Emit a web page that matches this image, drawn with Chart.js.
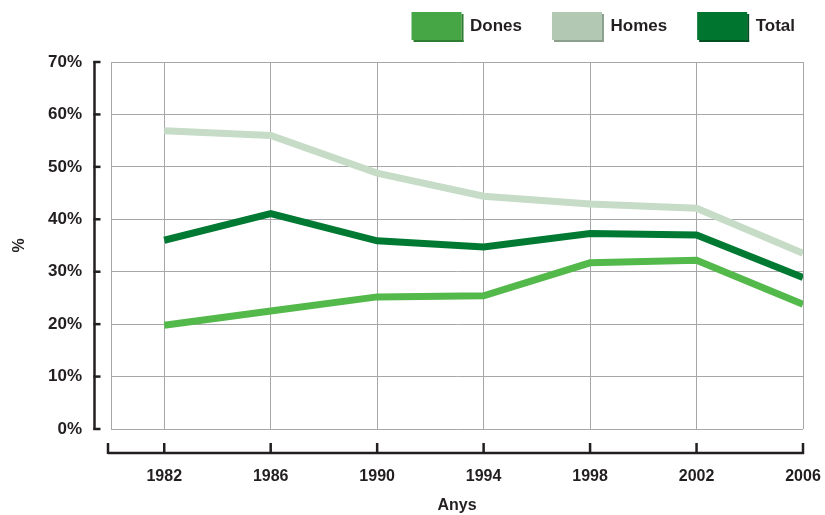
<!DOCTYPE html>
<html>
<head>
<meta charset="utf-8">
<script src="https://cdn.jsdelivr.net/npm/chart.js@4.4.1/dist/chart.umd.min.js"></script>
<style>
html,body{margin:0;padding:0;background:#fff;}
#wrap{width:825px;height:515px;}
</style>
</head>
<body>
<div id="wrap"><canvas id="c" width="825" height="515"></canvas></div>
<script>
const years = [1982, 1986, 1990, 1994, 1998, 2002, 2006];
const dones = [19.8, 22.5, 25.2, 25.4, 31.7, 32.2, 23.8];
const homes = [56.9, 56.0, 48.8, 44.4, 42.9, 42.1, 33.5];
const total = [36.0, 41.1, 35.9, 34.7, 37.3, 37.0, 28.9];
const yTicks = [0, 10, 20, 30, 40, 50, 60, 70];
const seriesNames = ['Dones', 'Homes', 'Total'];

const FONT = '"Liberation Sans", Arial, Helvetica, sans-serif';
const pts = arr => years.map((y, i) => ({x: y, y: arr[i]}));

const shadowColors = {Dones: '#2f7d30', Homes: '#8c9f8d', Total: '#004f20'};

const legendShift = {
  id: 'legendShift',
  beforeLayout(chart) {
    const l = chart.legend;
    if (l && !l._fitWrapped) {
      const origFit = l.fit;
      l.fit = function () { origFit.call(this); this.height = 62; };
      l._fitWrapped = true;
    }
  },
  afterLayout(chart) {
    const l = chart.legend;
    if (l) { l.top -= 18; l.bottom -= 18; }
  }
};

const axesPlugin = {
  id: 'axesPlugin',
  afterDraw(chart) {
    const ctx = chart.ctx;
    const xs = chart.scales.x, ys = chart.scales.y;
    const ca = chart.chartArea;
    ctx.save();
    ctx.strokeStyle = '#231f20';
    ctx.lineWidth = 2.5;
    ctx.lineCap = 'butt';
    // y axis line
    const ax = ca.left - 16.5;
    ctx.beginPath();
    ctx.moveTo(ax, ys.getPixelForValue(70) - 1);
    ctx.lineTo(ax, ys.getPixelForValue(0) + 1);
    ctx.stroke();
    yTicks.forEach(v => {
      const py = ys.getPixelForValue(v);
      ctx.beginPath();
      ctx.moveTo(ax - 1, py);
      ctx.lineTo(ax + 6, py);
      ctx.stroke();
    });
    // x axis line
    const ay = ca.bottom + 24;
    const leftEnd = ca.left - 3;
    ctx.beginPath();
    ctx.moveTo(leftEnd, ay);
    ctx.lineTo(xs.getPixelForValue(years[years.length - 1]) + 1, ay);
    ctx.stroke();
    [leftEnd].concat(years.map(v => xs.getPixelForValue(v))).forEach(px => {
      ctx.beginPath();
      ctx.moveTo(px, ay + 1);
      ctx.lineTo(px, ay - 10);
      ctx.stroke();
    });
    // legend box shadows
    const lg = chart.legend;
    if (lg && lg.legendHitBoxes) {
      const bw = lg.options.labels.boxWidth, bh = lg.options.labels.boxHeight;
      lg.legendHitBoxes.forEach((hb, i) => {
        ctx.fillStyle = shadowColors[lg.legendItems[i].text];
        const top = hb.top + (hb.height - bh) / 2;
        ctx.fillRect(hb.left + bw, top + 2, 2, bh);
        ctx.fillRect(hb.left + 2, top + bh, bw, 2);
      });
    }
    ctx.restore();
  }
};

new Chart(document.getElementById('c'), {
  type: 'line',
  data: {
    datasets: [
      {label: seriesNames[1], data: pts(homes), borderColor: '#c6dcc7', backgroundColor: '#b2c8b3', order: 3},
      {label: seriesNames[2], data: pts(total), borderColor: '#007a33', backgroundColor: '#00752f', order: 2},
      {label: seriesNames[0], data: pts(dones), borderColor: '#53b94a', backgroundColor: '#46a544', order: 1}
    ]
  },
  options: {
    responsive: false,
    animation: false,
    devicePixelRatio: 1,
    layout: {padding: {left: 0, right: 0, top: 0, bottom: 0}},
    elements: {
      line: {borderWidth: 7, tension: 0, borderCapStyle: 'butt', borderJoinStyle: 'miter', fill: false},
      point: {radius: 0, hoverRadius: 0}
    },
    plugins: {
      tooltip: {enabled: false},
      legend: {
        display: true,
        position: 'top',
        align: 'end',
        labels: {
          boxWidth: 50,
          boxHeight: 28,
          padding: 30,
          color: '#231f20',
          font: {family: FONT, size: 17, weight: 'bold'},
          generateLabels(chart) {
            return seriesNames.map(name => {
              const idx = chart.data.datasets.findIndex(d => d.label === name);
              const ds = chart.data.datasets[idx];
              return {text: name, fillStyle: ds.backgroundColor, strokeStyle: ds.backgroundColor,
                      lineWidth: 0, hidden: false, datasetIndex: idx, fontColor: '#231f20'};
            });
          }
        }
      }
    },
    scales: {
      x: {
        type: 'linear',
        min: 1980,
        max: 2006,
        afterBuildTicks(s) { s.ticks = years.map(v => ({value: v})); },
        afterFit(s) { s.height = 86; s.paddingRight = 22; s.paddingLeft = 0; },
        grid: {color: '#a7a7a7', lineWidth: 1, drawTicks: false},
        border: {display: false},
        ticks: {
          padding: 38,
          color: '#231f20',
          font: {family: FONT, size: 16, weight: 'bold'},
          maxRotation: 0,
          callback: v => String(v)
        },
        title: {
          display: true,
          text: 'Anys',
          color: '#231f20',
          font: {family: FONT, size: 16, weight: 'bold'},
          padding: {top: 0, bottom: 0}
        }
      },
      y: {
        min: 0,
        max: 70,
        afterBuildTicks(s) { s.ticks = yTicks.map(v => ({value: v})); },
        afterFit(s) { s.width = 111; },
        grid: {color: '#a7a7a7', lineWidth: 1, drawTicks: false},
        border: {display: true, color: '#a7a7a7', width: 1},
        ticks: {
          padding: 29,
          color: '#231f20',
          font: {family: FONT, size: 17, weight: 'bold'},
          callback: v => v + '%'
        },
        title: {
          display: true,
          text: '%',
          color: '#231f20',
          font: {family: FONT, size: 16, weight: 'bold'},
          padding: {top: 10, bottom: 0}
        }
      }
    }
  },
  plugins: [legendShift, axesPlugin]
});
</script>
</body>
</html>
